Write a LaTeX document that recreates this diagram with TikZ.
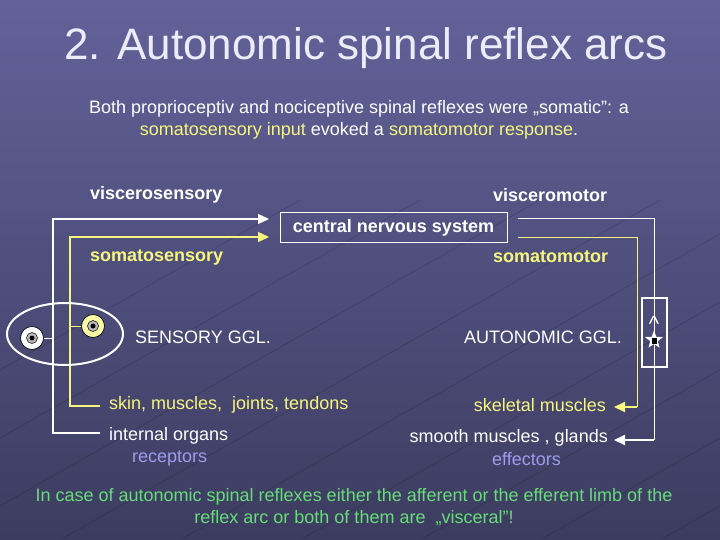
\documentclass[tikz,border=0pt]{standalone}
\usepackage{fontspec}
\setmainfont{Liberation Sans}
\usetikzlibrary{arrows.meta,shapes.geometric}
\definecolor{bgtop}{HTML}{62629A}
\definecolor{bgbot}{HTML}{3C3C60}
\definecolor{ylw}{HTML}{F6F67E}
\definecolor{lav}{HTML}{9C9CEE}
\definecolor{grn}{HTML}{66DD77}
\definecolor{ttl}{HTML}{ECECF8}
\begin{document}
\begin{tikzpicture}[x=1pt,y=-1pt,
  txt/.style={font=\fontsize{18}{22}\selectfont, inner sep=0pt},
  bld/.style={font=\bfseries\fontsize{18}{22}\selectfont, inner sep=0pt},
  wline/.style={draw=white, line width=1.3pt},
  yline/.style={draw=ylw, line width=1.3pt},
  tip/.style={-{Triangle[length=11pt,width=10pt]}},
  neuron/.style={circle, draw=black, line width=0.6pt, minimum size=23pt, inner sep=0pt},
  ring/.style={circle, draw=black, line width=0.5pt, fill=gray!55, minimum size=11pt, inner sep=0pt},
  nucleus/.style={circle, fill=black, minimum size=5pt, inner sep=0pt}]
\useasboundingbox (0,0) rectangle (720,540);
\shade[top color=bgtop, bottom color=bgbot] (0,0) rectangle (720,540);
% faint background grid
\begin{scope}[draw=black, opacity=0.12, line width=1pt]
  \foreach \s in {-300,-180,...,900} { \draw (\s,540) -- ++(600,-340); }
\end{scope}
% title
\node[font=\fontsize{44}{50}\selectfont, text=ttl] (title) at (366,48) {2. Autonomic spinal reflex arcs};
% intro
\node[txt, text=white, align=center, font=\fontsize{18}{22}\selectfont] (intro) at (359,120)
  {Both proprioceptiv and nociceptive spinal reflexes were „somatic”: a\\
   \textcolor{ylw}{somatosensory input} evoked a \textcolor{ylw}{somatomotor response}.};
% labels
\node[bld, text=white, anchor=west] (vs) at (90,195) {viscerosensory};
\node[bld, text=white, anchor=west] (vm) at (493,195) {visceromotor};
\node[bld, text=ylw, anchor=west] (ss) at (90,257) {somatosensory};
\node[bld, text=ylw, anchor=west] (sm) at (493,257) {somatomotor};
\node[bld, text=white, draw=white, line width=1pt, minimum width=227pt, minimum height=29pt] (cns) at (393.5,227.5) {central nervous system};
\node[txt, text=white, anchor=west] (sg) at (135,337) {SENSORY GGL.};
\node[txt, text=white, anchor=west] (ag) at (464,337) {AUTONOMIC GGL.};
\node[txt, text=ylw, anchor=west] (skin) at (109,405) {skin, muscles,\ \ joints, tendons};
\node[txt, text=white, anchor=west] (io) at (109,436) {internal organs};
\node[txt, text=lav, anchor=west] (rec) at (132,459) {receptors};
\node[txt, text=ylw, anchor=east] (skm) at (606,405) {skeletal muscles};
\node[txt, text=white, anchor=east] (smm) at (608,438) {smooth muscles , glands};
\node[txt, text=lav, anchor=west] (eff) at (492,459) {effectors};
\node[txt, text=grn, align=center, font=\fontsize{18}{22}\selectfont] (note) at (354,507)
  {In case of autonomic spinal reflexes either the afferent or the efferent limb of the\\
   reflex arc or both of them are\ \ „visceral”!};
% coordinates
\coordinate (wTop) at (53,219);
\coordinate (wTip) at (269,219);
\coordinate (wBot) at (53,433);
\coordinate (wEnd) at (100,433);
\coordinate (wJoin) at (53,338);
\coordinate (yTop) at (70,237);
\coordinate (yTip) at (269,237);
\coordinate (yBot) at (70,406);
\coordinate (yEnd) at (100,406);
\coordinate (yJoin) at (70,326);
\coordinate (rwStart) at (518,219);
\coordinate (rwCorner) at (654,219);
\coordinate (rwBot) at (654,440);
\coordinate (rwTip) at (614,440);
\coordinate (ryStart) at (518,237);
\coordinate (ryCorner) at (637,237);
\coordinate (ryBot) at (637,407);
\coordinate (ryTip) at (614,407);
% afferent lines
\draw[wline, tip] (wEnd) -- (wBot) -- (wTop) -- (wTip);
\draw[yline, tip] (yEnd) -- (yBot) -- (yTop) -- (yTip);
% efferent lines
\draw[draw=white, line width=1pt] (rwStart) -- (rwCorner) -- (rwBot);
\draw[draw=white, line width=2pt, tip] (rwBot) -- (rwTip);
\draw[draw=ylw, line width=1pt] (ryStart) -- (ryCorner) -- (ryBot);
\draw[draw=ylw, line width=2pt, tip] (ryBot) -- (ryTip);
% sensory ganglion
\node[ellipse, draw=white, line width=2pt, minimum width=116pt, minimum height=62pt, inner sep=0pt] (ggl) at (65,334) {};
\node[neuron, fill=white] (nW) at (32,338) {};
\node[ring] at (nW) {};
\node[nucleus] at (nW) {};
\node[neuron, fill=ylw!70!white] (nY) at (93,326) {};
\node[ring] at (nY) {};
\node[nucleus] at (nY) {};
\draw[draw=white, line width=1pt] (nW) -- (wJoin);
\draw[draw=ylw, line width=1pt] (nY) -- (yJoin);
% autonomic ganglion box
\node[draw=white, line width=2pt, minimum width=25pt, minimum height=69pt, inner sep=0pt] (abox) at (654.5,332) {};
\node[text=white, font=\fontsize{22}{22}\selectfont, inner sep=0pt] (caret) at (654,324) {\textasciicircum};
\node[star, star points=5, star point ratio=2.4, fill=white, minimum size=19pt, inner sep=0pt] (star) at (654,340) {};
\node[fill=black, minimum size=5.5pt, inner sep=0pt] (soma) at (654.5,341) {};
\end{tikzpicture}
\end{document}
